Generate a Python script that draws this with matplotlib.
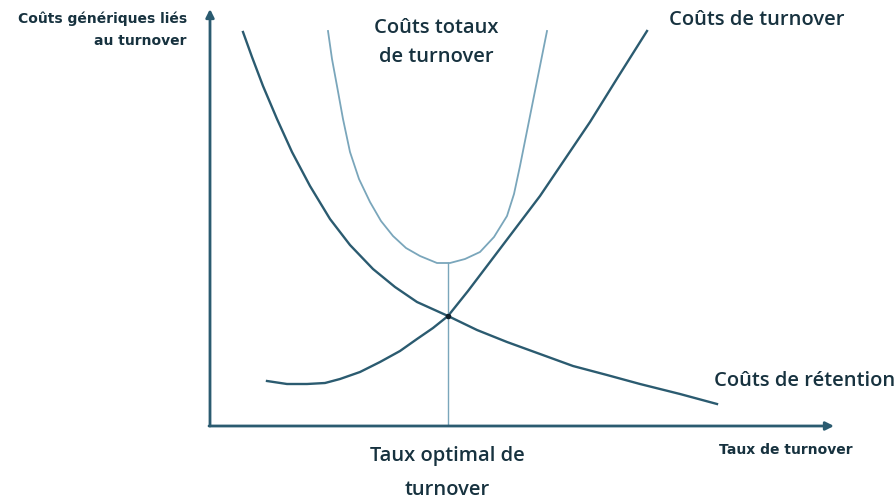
import numpy as np
from matplotlib import pyplot as plt

# Curves (pixel coords, y down)
retention_x = [243, 252, 263, 277, 292, 310, 330, 350, 373, 395, 417, 448, 477, 507, 540, 573, 607, 640, 680, 717]
retention_y = [33, 58, 87, 120, 153, 187, 220, 246, 270, 288, 303, 317, 331, 343, 355, 367, 376, 385, 395, 405]

turnover_x = [267, 287, 307, 325, 340, 360, 380, 400, 417, 433, 448, 468, 490, 515, 540, 565, 590, 618, 647]
turnover_y = [382, 385, 385, 384, 380, 373, 363, 352, 340, 329, 317, 292, 263, 230, 197, 160, 123, 78, 32]

total_x = [328, 332, 337, 343, 350, 359, 370, 381, 393, 406, 420, 437, 450, 465, 480,
           494, 507, 514, 520, 525, 530, 535, 540, 547]
total_y = [32, 60, 87, 120, 153, 180, 203, 222, 237, 249, 257, 264, 264, 260, 253,
           238, 217, 195, 167, 142, 117, 92, 67, 32]

optimum_x = 448
optimum_y = 317
total_min_y = 264

dark = '#2b5b70'
light = '#7aa6bb'
text_col = '#17323f'

fig = plt.figure(figsize=(8.96, 5.02), dpi=100)
ax = fig.add_axes([0, 0, 1, 1])
ax.set_xlim(0, 896)
ax.set_ylim(502, 0)
ax.axis('off')

# Axes with arrows
ax.annotate('', xy=(210, 10), xytext=(210, 427),
            arrowprops=dict(arrowstyle='-|>', color=dark, lw=2, mutation_scale=12, shrinkA=0, shrinkB=0))
ax.annotate('', xy=(834, 427), xytext=(209, 427),
            arrowprops=dict(arrowstyle='-|>', color=dark, lw=2, mutation_scale=12, shrinkA=0, shrinkB=0))

# Curves
ax.plot(retention_x, retention_y, color=dark, lw=1.7, solid_joinstyle='round')
ax.plot(turnover_x, turnover_y, color=dark, lw=1.7, solid_joinstyle='round')
ax.plot(total_x, total_y, color=light, lw=1.3, solid_joinstyle='round')
ax.plot([optimum_x, optimum_x], [total_min_y, 426], color=light, lw=1.0)
ax.plot(optimum_x, optimum_y, 'o', color='#10202a', markersize=3)

# Labels
small = dict(fontsize=10, fontweight='bold', family='DejaVu Sans', color=text_col)
big = dict(fontsize=14.5, fontweight='semibold', family='Open Sans', color=text_col)

ax.text(187, 19, 'Coûts génériques liés', ha='right', va='center', **small)
ax.text(187, 41, 'au turnover', ha='right', va='center', **small)
ax.text(436, 28, 'Coûts totaux', ha='center', va='center', **big)
ax.text(436, 57, 'de turnover', ha='center', va='center', **big)
ax.text(757, 20, 'Coûts de turnover', ha='center', va='center', **big)
ax.text(805, 381, 'Coûts de rétention', ha='center', va='center', **big)
ax.text(786, 450, 'Taux de turnover', ha='center', va='center', **small)
ax.text(447, 456, 'Taux optimal de', ha='center', va='center', **big)
ax.text(447, 490, 'turnover', ha='center', va='center', **big)

fig.savefig('out.png', dpi=100)
